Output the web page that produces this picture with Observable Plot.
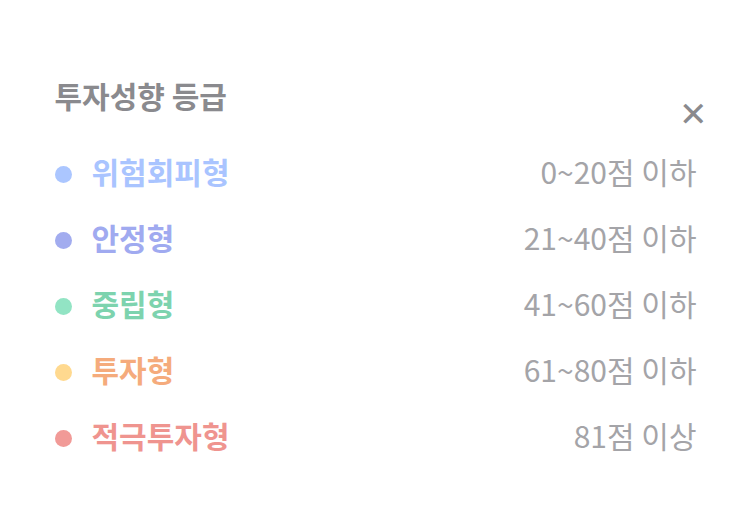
<!DOCTYPE html>
<html><head><meta charset="utf-8">
<script src="https://cdn.jsdelivr.net/npm/d3@7"></script>
<script src="https://cdn.jsdelivr.net/npm/@observablehq/plot@0.6"></script>
<style>
body{margin:0;background:#fff;font-family:"Noto Sans CJK KR","Noto Sans",sans-serif;}
</style></head><body>
<div id="chart"></div>
<script>
// grade data
const grades = ["위험회피형", "안정형", "중립형", "투자형", "적극투자형"];
const ranges = ["0~20점 이하", "21~40점 이하", "41~60점 이하", "61~80점 이하", "81점 이상"];
const dotColors = ["#abc6ff", "#a2acef", "#92e4c4", "#ffd98f", "#f19a97"];
const textColors = ["#a9c4ff", "#a0aaf0", "#7dd3ae", "#f5ab7c", "#ef948f"];

const rows = grades.map((g, i) => ({grade: g, range: ranges[i], dot: dotColors[i], color: textColors[i]}));

const chart = Plot.plot({
    width: 752, height: 517, margin: 0,
    x: {domain: [0, 752], range: [0, 752], axis: null},
    y: {type: "point", domain: grades, range: [173, 438], padding: 0, axis: null},
    style: {fontFamily: '"Noto Sans CJK KR", sans-serif', background: "#fff"},
    marks: [
        Plot.text(["투자성향 등급"], {frameAnchor: "top-left", dx: 54, dy: 86, textAnchor: "start",
            fontSize: 30, fontWeight: "bold", fill: "#8a8a8e"}),
        Plot.text(["✕"], {frameAnchor: "top-left", dx: 678, dy: 101, fontSize: 34, fill: "#8a8a8e"}),
        Plot.dot(rows, {x: () => 63, y: "grade", r: 8.5, fill: "dot", stroke: null}),
        Plot.text(rows, {x: () => 91, y: "grade", text: "grade", textAnchor: "start", fontSize: 30,
            fontWeight: "bold", fill: "color"}),
        Plot.text(rows, {x: () => 696, y: "grade", text: "range", textAnchor: "end", fontSize: 30,
            fill: "#a4a4a8"})
    ]
});
document.getElementById("chart").append(chart);
</script>
</body></html>
